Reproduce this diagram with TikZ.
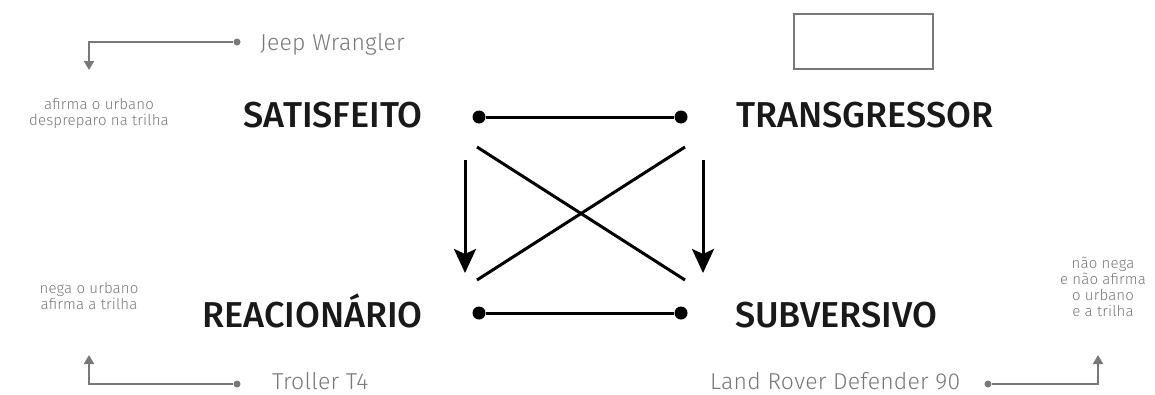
\documentclass[tikz,border=0pt]{standalone}
\usepackage{fontspec}
\setmainfont{Fira Sans}
\newfontfamily\titlefont{Fira Sans Medium}
\newfontfamily\lightfont{Fira Sans Light}[LetterSpace=1]
\usetikzlibrary{arrows.meta,positioning}
\definecolor{titleink}{RGB}{25,25,25}
\definecolor{noteink}{RGB}{120,120,120}

\begin{document}
\begin{tikzpicture}[x=1pt, y=-1pt,
    title/.style={inner sep=0pt, text=titleink,
                  font=\titlefont\fontsize{36}{40}\selectfont},
    car/.style={anchor=base west, inner sep=0pt, text=noteink,
                font=\lightfont\fontsize{23}{27}\selectfont},
    note/.style={align=center, inner sep=0pt, text=noteink,
                 font=\lightfont\fontsize{15}{16}\selectfont},
    dot/.style={circle, fill=black, inner sep=0pt, minimum size=13pt},
    gdot/.style={circle, fill=noteink, inner sep=0pt, minimum size=7pt},
    bar/.style={line width=3pt, black},
    arr/.style={-{Stealth[length=24pt, width=22pt, inset=5pt]}, line width=3pt, black},
    garr/.style={-{Triangle[length=9pt, width=10pt]}, line width=2pt, noteink}]
    \useasboundingbox (0,0) rectangle (1155,394);

    % the four positions
    \node[title, anchor=base east] (sat) at (423,127) {SATISFEITO};
    \node[title, anchor=base west] (tra) at (736,127) {TRANSGRESSOR};
    \node[title, anchor=base east] (rea) at (423,327) {REACIONÁRIO};
    \node[title, anchor=base west] (sub) at (735,327) {SUBVERSIVO};

    % empty box over TRANSGRESSOR
    \node[draw=noteink, line width=1.5pt, minimum width=139pt, minimum height=55pt,
          inner sep=0pt] (blank) at (863.5,41.5) {};

    % contraries
    \node[dot] (s1) at (479,117) {};
    \node[dot] (t1) at (681,117) {};
    \node[dot] (r1) at (479,313) {};
    \node[dot] (u1) at (681,313) {};
    \draw[bar] (s1) -- (t1);
    \draw[bar] (r1) -- (u1);

    % contradictories
    \coordinate (x1) at (477,147);
    \coordinate (x2) at (685,280);
    \coordinate (x3) at (685,147);
    \coordinate (x4) at (477,280);
    \draw[bar] (x1) -- (x2);
    \draw[bar] (x3) -- (x4);

    % implications
    \coordinate (a1) at (465,160);
    \coordinate (a2) at (465,273);
    \coordinate (b1) at (703,160);
    \coordinate (b2) at (703,273);
    \draw[arr] (a1) -- (a2);
    \draw[arr] (b1) -- (b2);

    % cars and notes
    \node[car] (jeep) at (260,50) {Jeep Wrangler};
    \node[car] (troller) at (272,389) {Troller T4};
    \node[car] (land) at (710,389) {Land Rover Defender 90};

    \node[note] (nsat) at (99,113) {afirma o urbano\\despreparo na trilha};
    \node[note] (nrea) at (89,296) {nega o urbano\\afirma a trilha};
    \node[note] (nsub) at (1103,287) {não nega\\e não afirma\\o urbano\\e a trilha};

    \node[gdot] (j1) at (237,42) {};
    \node[gdot] (t2) at (237,384) {};
    \node[gdot] (l1) at (988,384) {};
    \draw[garr] (j1) -| (89,70);
    \draw[garr] (t2) -| (89,355);
    \draw[garr] (l1) -| (1098,355);
\end{tikzpicture}
\end{document}
